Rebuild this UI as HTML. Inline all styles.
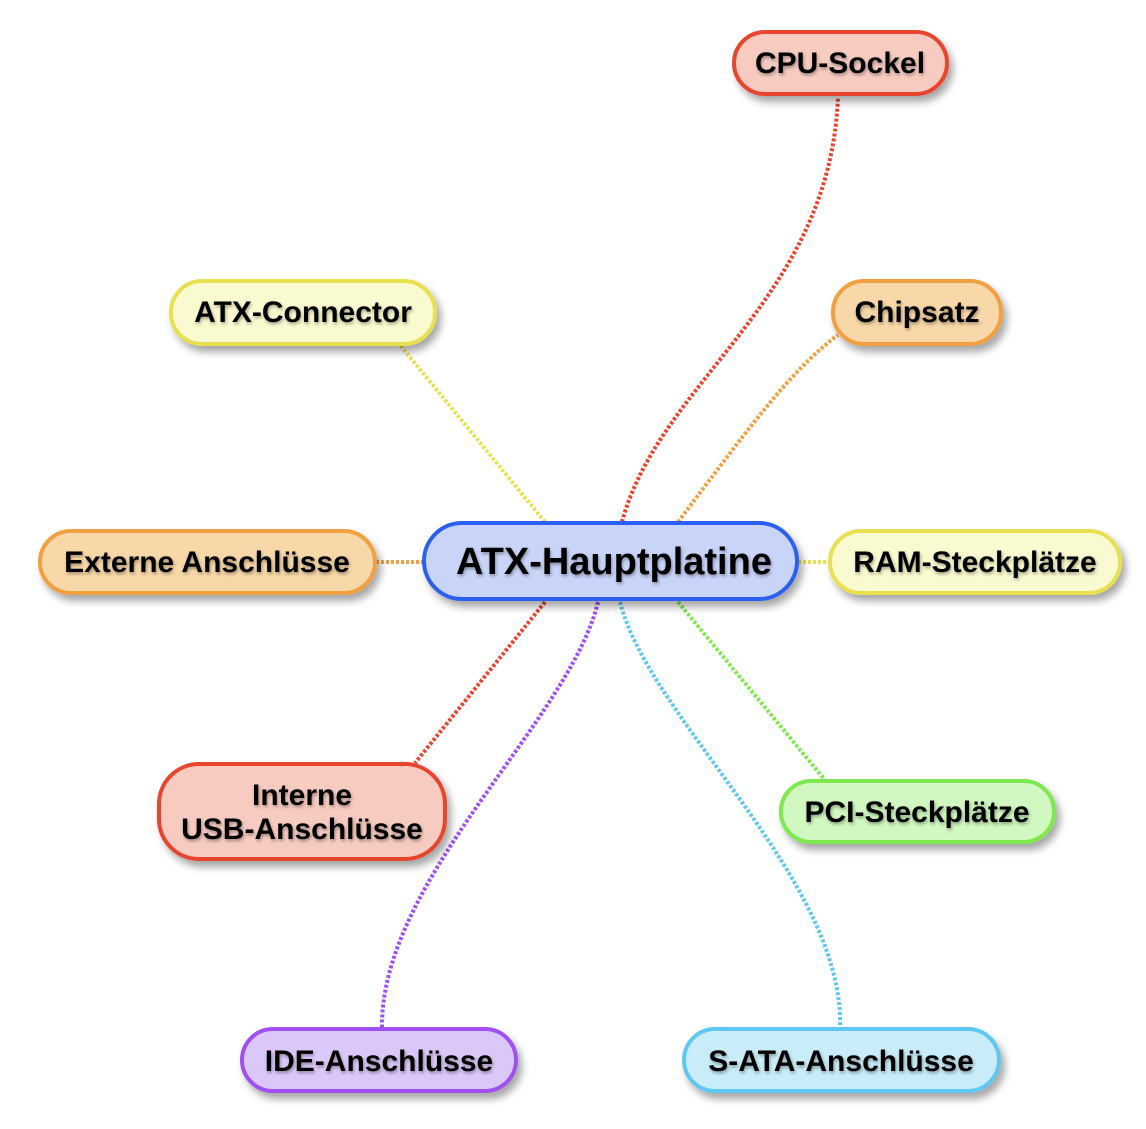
<!DOCTYPE html>
<html><head><meta charset="utf-8"><style>
body{margin:0;background:#fff}
svg text{font-family:"Liberation Sans",sans-serif;font-weight:bold;fill:#000}
</style></head><body>
<svg width="1146" height="1124" viewBox="0 0 1146 1124" xmlns="http://www.w3.org/2000/svg">
<defs>
<filter id="sh" x="-20%" y="-30%" width="140%" height="170%"><feDropShadow dx="4" dy="6" stdDeviation="4" flood-color="#000" flood-opacity="0.35"/></filter>
<filter id="ts" x="-5%" y="-20%" width="110%" height="150%"><feDropShadow dx="1" dy="2" stdDeviation="1.5" flood-color="#000" flood-opacity="0.35"/></filter>
</defs>
<g fill="none" stroke-width="4" stroke-dasharray="3 2">
<path d="M622,522 C660,380 830,300 838,97" stroke="#e8452f"/>
<path d="M545,522 L400,345" stroke="#e8e050"/>
<path d="M678,522 C740,440 790,370 838,335" stroke="#f0a040"/>
<path d="M376,562 L423,562" stroke="#f0a040"/>
<path d="M798,562 L829,562" stroke="#e8e050"/>
<path d="M545,602 L415,763" stroke="#e8452f"/>
<path d="M598,602 C570,720 380,880 382,1028" stroke="#a050f0"/>
<path d="M620,602 C650,720 845,880 840,1028" stroke="#60c8f0"/>
<path d="M678,602 L825,780" stroke="#7ee850"/>
</g>
<g stroke-width="4" filter="url(#sh)">
<rect x="734" y="32" width="213" height="62" rx="31" fill="#f7cbc0" stroke="#e8452f"/>
<rect x="171" y="281" width="264" height="63" rx="31" fill="#fafad0" stroke="#e8e050"/>
<rect x="833" y="281" width="168" height="63" rx="31" fill="#f8d8a8" stroke="#f0a040"/>
<rect x="40" y="531" width="335" height="62" rx="31" fill="#f8d8a8" stroke="#f0a040"/>
<rect x="424" y="523" width="373" height="76" rx="38" fill="#c8d4f8" stroke="#2b5ef0"/>
<rect x="830" y="531" width="290" height="62" rx="31" fill="#fafad0" stroke="#e8e050"/>
<rect x="159" y="764" width="286" height="95" rx="40" fill="#f7cbc0" stroke="#e8452f"/>
<rect x="781" y="781" width="273" height="61" rx="30" fill="#d0f8c0" stroke="#7ee850"/>
<rect x="242" y="1029" width="274" height="62" rx="31" fill="#dcc8f8" stroke="#a050f0"/>
<rect x="684" y="1029" width="315" height="62" rx="31" fill="#c8ecf8" stroke="#60c8f0"/>
</g>
<g font-size="30" text-anchor="middle" filter="url(#ts)">
<text x="840" y="73">CPU-Sockel</text>
<text x="303" y="322">ATX-Connector</text>
<text x="917" y="322">Chipsatz</text>
<text x="207" y="572">Externe Anschlüsse</text>
<text x="614" y="574" font-size="38">ATX-Hauptplatine</text>
<text x="975" y="572">RAM-Steckplätze</text>
<text x="302" y="805">Interne</text>
<text x="302" y="839">USB-Anschlüsse</text>
<text x="917" y="822">PCI-Steckplätze</text>
<text x="379" y="1071">IDE-Anschlüsse</text>
<text x="841" y="1071">S-ATA-Anschlüsse</text>
</g>
</svg>
</body></html>
